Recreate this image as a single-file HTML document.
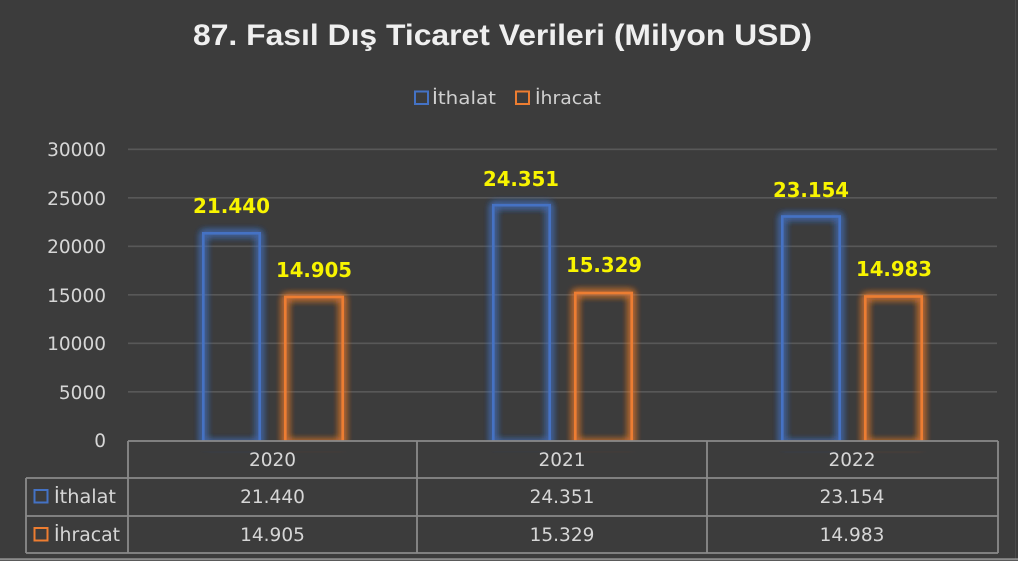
<!DOCTYPE html>
<html>
<head>
<meta charset="utf-8">
<style>
html,body{margin:0;padding:0;background:#3c3c3c;}
svg{display:block;}
</style>
</head>
<body>
<svg width="1018" height="561" viewBox="0 0 1018 561" xmlns="http://www.w3.org/2000/svg">
<defs>
<filter id="glow" x="-30%" y="-30%" width="160%" height="160%">
<feGaussianBlur in="SourceGraphic" stdDeviation="4" result="b"/>
<feMerge><feMergeNode in="b"/><feMergeNode in="b"/><feMergeNode in="b"/><feMergeNode in="SourceGraphic"/></feMerge>
</filter>
</defs>
<rect x="0" y="0" width="1018" height="561" fill="#3c3c3c"/>
<line x1="1015.5" y1="0" x2="1015.5" y2="559" stroke="#4a4a4a" stroke-width="1"/>
<rect x="0" y="558.5" width="1018" height="1.2" fill="#b8b8b8"/>
<rect x="0" y="559.7" width="1018" height="1.3" fill="#5a5a5a"/>

<!-- Title -->
<text x="193" y="45" font-family="Liberation Sans, Arial, sans-serif" font-weight="bold" font-size="30" fill="#efefef" textLength="619" lengthAdjust="spacingAndGlyphs">87. Fasıl Dış Ticaret Verileri (Milyon USD)</text>

<!-- Legend -->
<rect x="415" y="91.5" width="13" height="12.5" fill="none" stroke="#4472c4" stroke-width="2"/>
<text x="432" y="104" font-family="DejaVu Sans, sans-serif" font-size="18" fill="#d0d0d0" textLength="64" lengthAdjust="spacingAndGlyphs">İthalat</text>
<rect x="516" y="91.5" width="13" height="12.5" fill="none" stroke="#ed7d31" stroke-width="2"/>
<text x="535" y="104" font-family="DejaVu Sans, sans-serif" font-size="18" fill="#d0d0d0" textLength="66" lengthAdjust="spacingAndGlyphs">İhracat</text>

<!-- Gridlines -->
<g stroke="#585858" stroke-width="1.6">
<line x1="128" y1="149.3" x2="997" y2="149.3"/>
<line x1="128" y1="197.8" x2="997" y2="197.8"/>
<line x1="128" y1="246.3" x2="997" y2="246.3"/>
<line x1="128" y1="294.8" x2="997" y2="294.8"/>
<line x1="128" y1="343.3" x2="997" y2="343.3"/>
<line x1="128" y1="391.8" x2="997" y2="391.8"/>
</g>

<!-- Axis labels -->
<g font-family="DejaVu Sans, sans-serif" font-size="18.5" fill="#d6d6d6" text-anchor="end">
<text x="106" y="156">30000</text>
<text x="106" y="205">25000</text>
<text x="106" y="253">20000</text>
<text x="106" y="302">15000</text>
<text x="106" y="350">10000</text>
<text x="106" y="399">5000</text>
<text x="106" y="447">0</text>
</g>

<!-- Bars -->
<g fill="none" stroke-width="2.6" filter="url(#glow)">
<rect x="203.3" y="233.3" width="56.4" height="210" stroke="#4472c4"/>
<rect x="285.3" y="297" width="57.4" height="146" stroke="#ed7d31"/>
<rect x="493.3" y="205.2" width="56.4" height="238" stroke="#4472c4"/>
<rect x="575.3" y="293" width="56.4" height="150" stroke="#ed7d31"/>
<rect x="782.3" y="216.5" width="57.4" height="227" stroke="#4472c4"/>
<rect x="865.3" y="296.5" width="56.4" height="147" stroke="#ed7d31"/>
</g>
<rect x="120" y="441.5" width="890" height="10" fill="#3c3c3c"/>

<!-- Data labels -->
<g font-family="DejaVu Sans, sans-serif" font-weight="bold" font-size="20" fill="#f8f400">
<text x="193" y="213" textLength="77" lengthAdjust="spacingAndGlyphs">21.440</text>
<text x="276" y="277" textLength="76" lengthAdjust="spacingAndGlyphs">14.905</text>
<text x="483" y="186" textLength="76" lengthAdjust="spacingAndGlyphs">24.351</text>
<text x="566" y="272" textLength="76" lengthAdjust="spacingAndGlyphs">15.329</text>
<text x="773" y="197" textLength="76" lengthAdjust="spacingAndGlyphs">23.154</text>
<text x="856" y="276" textLength="76" lengthAdjust="spacingAndGlyphs">14.983</text>
</g>

<!-- Table -->
<g stroke="#8a8a8a" stroke-width="1.8" fill="none">
<line x1="128" y1="441" x2="998" y2="441"/>
<line x1="26" y1="478" x2="998" y2="478"/>
<line x1="26" y1="516" x2="998" y2="516"/>
<line x1="26" y1="553" x2="998" y2="553"/>
<line x1="26" y1="478" x2="26" y2="553"/>
<line x1="128" y1="441" x2="128" y2="553"/>
<line x1="417" y1="441" x2="417" y2="553"/>
<line x1="707" y1="441" x2="707" y2="553"/>
<line x1="998" y1="441" x2="998" y2="553"/>
</g>
<g font-family="DejaVu Sans, sans-serif" font-size="18.5" fill="#d6d6d6" text-anchor="middle">
<text x="272.5" y="466">2020</text>
<text x="562" y="466">2021</text>
<text x="852" y="466">2022</text>
<text x="272.5" y="503">21.440</text>
<text x="562" y="503">24.351</text>
<text x="852" y="503">23.154</text>
<text x="272.5" y="541">14.905</text>
<text x="562" y="541">15.329</text>
<text x="852" y="541">14.983</text>
</g>
<rect x="34.5" y="490" width="13" height="12.5" fill="none" stroke="#4472c4" stroke-width="2"/>
<text x="54" y="503" font-family="DejaVu Sans, sans-serif" font-size="18.5" fill="#d6d6d6" textLength="62" lengthAdjust="spacingAndGlyphs">İthalat</text>
<rect x="34.5" y="528" width="13" height="12.5" fill="none" stroke="#ed7d31" stroke-width="2"/>
<text x="54" y="541" font-family="DejaVu Sans, sans-serif" font-size="18.5" fill="#d6d6d6" textLength="66" lengthAdjust="spacingAndGlyphs">İhracat</text>
</svg>
</body>
</html>
